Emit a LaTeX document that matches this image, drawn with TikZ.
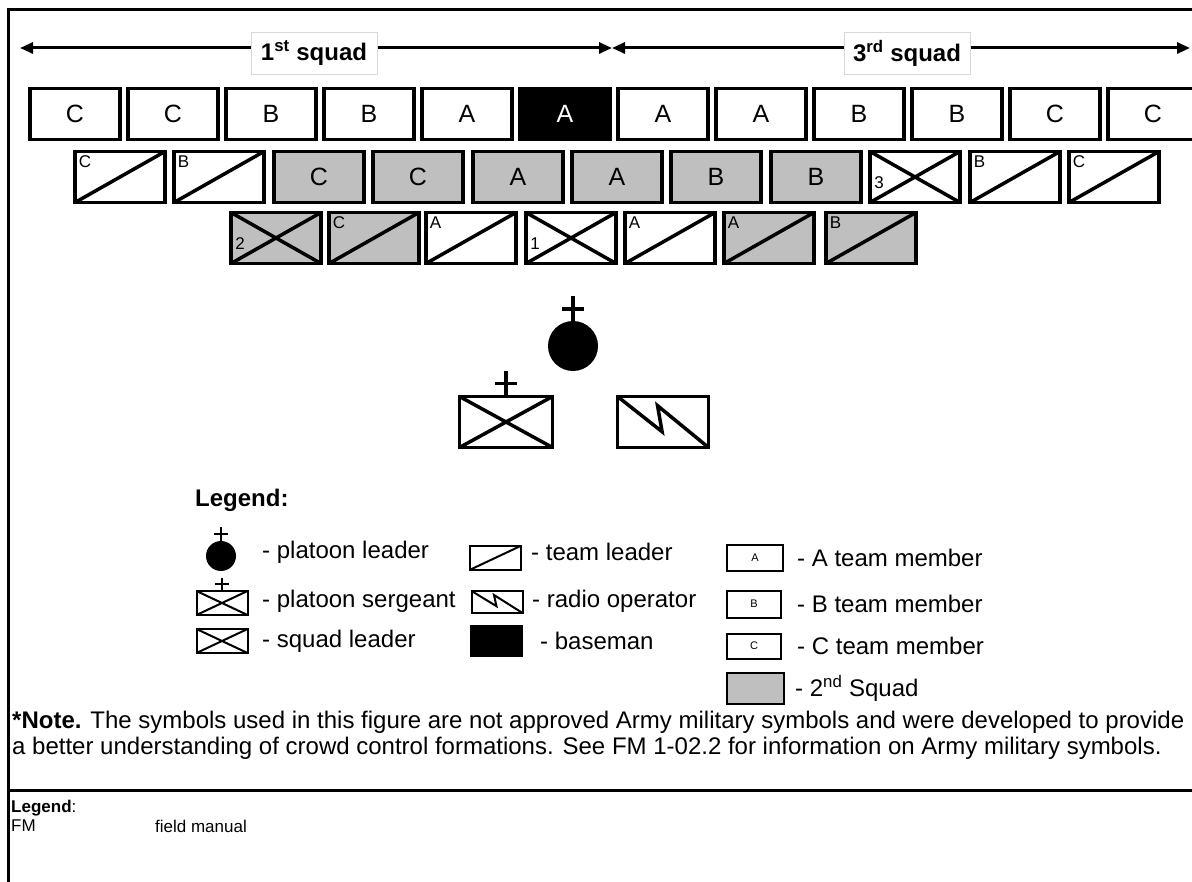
\documentclass[tikz,border=0pt]{standalone}
\usepackage{fontspec}
\setmainfont{Liberation Sans}
\usetikzlibrary{arrows.meta, shapes, calc}

\newcommand{\pxfont}[1]{\fontsize{#1}{#1}\selectfont}

\begin{document}
\begin{tikzpicture}[
        x=1pt, y=-1pt,
        every node/.style={inner sep=0pt},
        man/.style={draw, line width=3.5pt, minimum width=90pt, minimum height=51pt, font=\pxfont{25}},
        second/.style={fill=gray!50},
        tldr/.style={path picture={\draw[line width=#1] (path picture bounding box.south west) -- (path picture bounding box.north east);}},
        sldr/.style={path picture={\draw[line width=#1] (path picture bounding box.south west) -- (path picture bounding box.north east) (path picture bounding box.north west) -- (path picture bounding box.south east);}},
        radio/.style={path picture={\draw[line width=#1, line join=miter] let \p1=(path picture bounding box.south west), \p2=(path picture bounding box.north east) in (\x1,\y2) -- ({\x1+0.49*(\x2-\x1)},{\y2-0.69*(\y2-\y1)}) -- ({\x1+0.44*(\x2-\x1)},{\y2-0.18*(\y2-\y1)}) -- (\x2,\y1);}},
        teamldr/.style={man, tldr=3.5pt},
        squadldr/.style={man, sldr=3.5pt},
        corner/.style={label={[anchor=north west, font=\pxfont{17}, inner sep=5.5pt]north west:#1}},
        number/.style={label={[anchor=west, font=\pxfont{17}, inner sep=6pt, yshift=-6pt]west:#1}},
        squadtag/.style={draw=gray!30, line width=0.6pt, fill=white, minimum width=126pt, minimum height=42pt, font=\bfseries\pxfont{24}},
        span/.style={line width=3pt, {Triangle[length=13pt, width=11pt]}-{Triangle[length=13pt, width=11pt]}},
        keybox/.style={draw, line width=2pt, minimum width=51pt, minimum height=24pt, font=\pxfont{11}},
        keytext/.style={anchor=west, font=\pxfont{24}},
        frame/.style={line width=3pt}
    ]
    \useasboundingbox (0,0) rectangle (1192,882);

    % frame
    \draw[frame] (8,882) -- (8,10) -- (1192,10);
    \draw[frame] (8,790) -- (1192,790);

    % squad spans
    \coordinate (s1w) at (20,48);
    \coordinate (s1e) at (612,48);
    \coordinate (s3w) at (612,48);
    \coordinate (s3e) at (1190,48);
    \draw[span] (s1w) -- (s1e);
    \draw[span] (s3w) -- (s3e);
    \node[squadtag] (sq1) at (314,53) {1\textsuperscript{st} squad};
    \node[squadtag] (sq3) at (907,53) {3\textsuperscript{rd} squad};

    % front rank
    \node[man] (r1n1) at (75,114) {C};
    \node[man] (r1n2) at (173,114) {C};
    \node[man] (r1n3) at (271,114) {B};
    \node[man] (r1n4) at (369,114) {B};
    \node[man] (r1n5) at (467,114) {A};
    \node[man, fill=black, text=white] (r1n6) at (565,114) {A};
    \node[man] (r1n7) at (663,114) {A};
    \node[man] (r1n8) at (761,114) {A};
    \node[man] (r1n9) at (859,114) {B};
    \node[man] (r1n10) at (957,114) {B};
    \node[man] (r1n11) at (1055,114) {C};
    \node[man] (r1n12) at (1153,114) {C};

    % second rank
    \node[teamldr, corner=C] (r2n1) at (120,177) {};
    \node[teamldr, corner=B] (r2n2) at (219,177) {};
    \node[man, second] (r2n3) at (319,177) {C};
    \node[man, second] (r2n4) at (418,177) {C};
    \node[man, second] (r2n5) at (518,177) {A};
    \node[man, second] (r2n6) at (617,177) {A};
    \node[man, second] (r2n7) at (716,177) {B};
    \node[man, second] (r2n8) at (816,177) {B};
    \node[squadldr, number=3] (r2n9) at (915,177) {};
    \node[teamldr, corner=B] (r2n10) at (1015,177) {};
    \node[teamldr, corner=C] (r2n11) at (1114,177) {};

    % third rank
    \node[squadldr, second, number=2] (r3n1) at (276,238) {};
    \node[teamldr, second, corner=C] (r3n2) at (374,238) {};
    \node[teamldr, corner=A] (r3n3) at (471,238) {};
    \node[squadldr, number=1] (r3n4) at (571,238) {};
    \node[teamldr, corner=A] (r3n5) at (670,238) {};
    \node[teamldr, second, corner=A] (r3n6) at (769,238) {};
    \node[teamldr, second, corner=B] (r3n7) at (871,238) {};

    % platoon headquarters
    \node[circle, fill=black, minimum size=50pt] (pl) at (573,346) {};
    \draw[line width=3.5pt] (pl.north) -- ++(0,-25);
    \draw[line width=3.5pt] (pl.north) ++(-11,-12) -- ++(22,0);
    \node[man, sldr=3.5pt, minimum width=93pt] (psg) at (506,422) {};
    \draw[line width=3.5pt] (psg.north) -- ++(0,-24);
    \draw[line width=3.5pt] (psg.north) ++(-11,-11) -- ++(22,0);
    \node[man, radio=3.5pt, minimum width=91pt] (rto) at (663,422) {};

    % legend
    \node[anchor=west, font=\bfseries\pxfont{24}] (lgd) at (195,500) {Legend:};

    \node[circle, fill=black, minimum width=30pt, minimum height=30pt] (kpl) at (221,556) {};
    \draw[line width=2pt] (kpl.north) -- ++(0,-14);
    \draw[line width=2pt] (kpl.north) ++(-7,-7) -- ++(14,0);
    \node[keytext] (kplt) at (262,552) {- platoon leader};

    \node[keybox, sldr=2pt] (kpsg) at (222,603) {};
    \draw[line width=2pt] (kpsg.north) -- ++(0,-12);
    \draw[line width=2pt] (kpsg.north) ++(-7,-6) -- ++(14,0);
    \node[keytext] (kpsgt) at (262,601) {- platoon sergeant};

    \node[keybox, sldr=2pt] (ksl) at (222,641) {};
    \node[keytext] (kslt) at (262,641) {- squad leader};

    \node[keybox, tldr=2pt] (ktl) at (495,558) {};
    \node[keytext] (ktlt) at (531,552) {- team leader};

    \node[keybox, radio=2pt, minimum height=22pt] (kro) at (497,602) {};
    \node[keytext] (krot) at (532,601) {- radio operator};

    \node[keybox, fill=black, minimum height=30pt] (kbm) at (496,641) {};
    \node[keytext] (kbmt) at (540,641) {- baseman};

    \node[keybox, minimum width=56pt, minimum height=26pt] (ka) at (755,558) {A};
    \node[keytext] (kat) at (797,558) {- A team member};

    \node[keybox, minimum width=54pt, minimum height=27pt] (kb) at (754,604) {B};
    \node[keytext] (kbt) at (797,604) {- B team member};

    \node[keybox, minimum width=54pt, minimum height=25pt] (kc) at (754,646) {C};
    \node[keytext] (kct) at (797,646) {- C team member};

    \node[keybox, second, minimum width=57pt, minimum height=31pt] (k2) at (755,688) {};
    \node[keytext] (k2t) at (795,688) {- 2\textsuperscript{nd} Squad};

    % note
    \node[anchor=north west, align=left, font=\pxfont{24}, text depth=0pt] (note) at (12,711) {\textbf{*Note.} The symbols used in this figure are not approved Army military symbols and were developed to provide\\[2pt]a better understanding of crowd control formations. See FM 1-02.2 for information on Army military symbols.};

    % acronyms
    \node[anchor=west, font=\pxfont{17}] (acr) at (11,808) {\textbf{Legend}:};
    \node[anchor=west, font=\pxfont{17}] (fm) at (11,826) {FM};
    \node[anchor=west, font=\pxfont{17}] (fmt) at (155,826) {field manual};
\end{tikzpicture}
\end{document}
